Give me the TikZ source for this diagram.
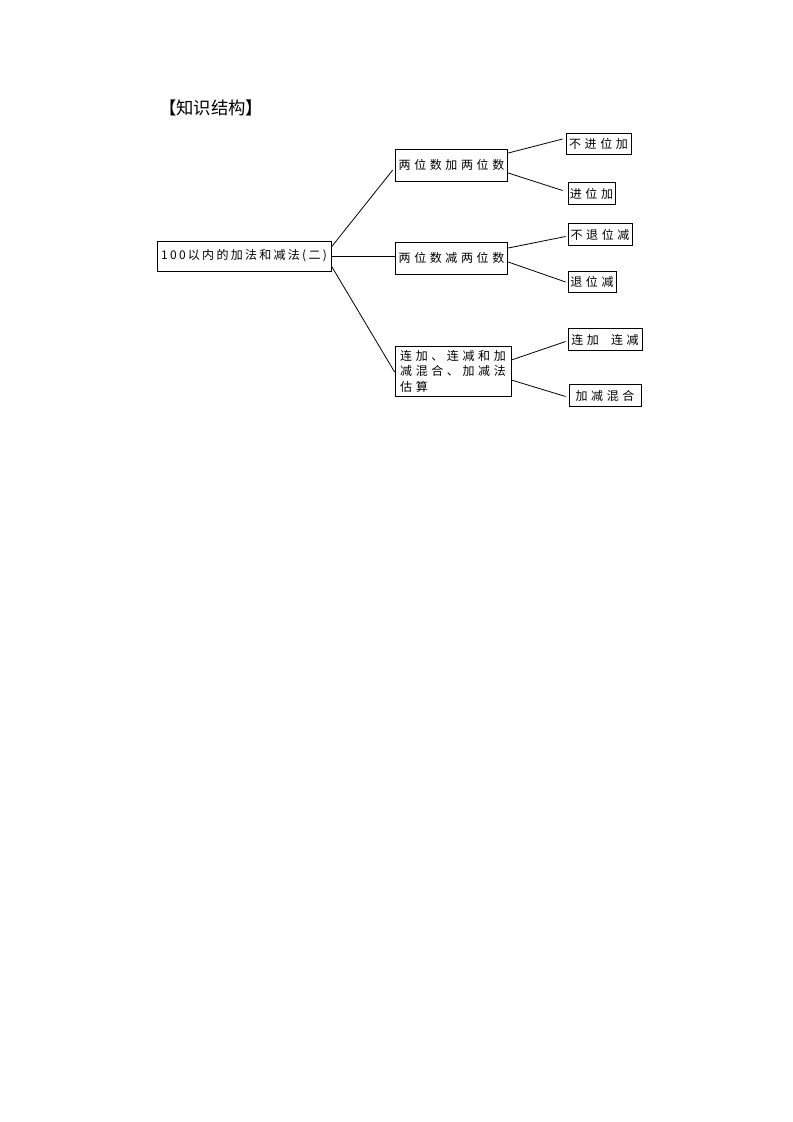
\documentclass[tikz,border=0pt]{standalone}
\usepackage{fontspec}
\setmainfont[LetterSpace=30]{Noto Sans CJK SC}
\newfontfamily\titlefont{Noto Sans CJK SC}
\usepackage{tikz}
\usetikzlibrary{positioning,calc}

\begin{document}
\begin{tikzpicture}[x=0.75pt,y=-0.75pt,line width=0.6pt,
    every node/.style={draw,inner sep=2pt,font=\fontsize{9}{11.6}\selectfont},
    topic/.style={minimum width=84.5pt,minimum height=24pt},
    leaf/.style={minimum height=16pt,inner sep=1pt}]
    \useasboundingbox (0,0) rectangle (793,1122);
    \node[draw=none,font=\titlefont\fontsize{13}{15}\selectfont] (title) at (211,108) {【知识结构】};
    % root and the three topics
    \node[minimum width=130.5pt,minimum height=22.5pt,inner sep=1pt,
        font=\fontsize{9}{11.6}\selectfont\addfontfeature{LetterSpace=19}] (R) at (244,256)
        {100以内的加法和减法(二)};
    \node[topic] (A) at (451.5,165) {两位数加两位数};
    \node[topic] (B) at (451.5,258) {两位数减两位数};
    \node[topic,minimum width=87pt,minimum height=37.5pt,align=left] (C) at (453,371)
        {连加、连减和加\\减混合、加减法\\估算};
    % leaves
    \node[leaf,minimum width=48.75pt] (A1) at (598.5,144) {不进位加};
    \node[leaf,minimum width=35.25pt] (A2) at (591.5,193.5) {进位加};
    \node[leaf,minimum width=48pt] (B1) at (600,234.5) {不退位减};
    \node[leaf,minimum width=36pt] (B2) at (592,282) {退位减};
    \node[leaf,minimum width=55.5pt,minimum height=17pt] (C1) at (605,339.5) {连加\hspace{9pt}连减};
    \node[leaf,minimum width=54pt,minimum height=17pt] (C2) at (605,395.5) {加减混合};
    % connectors
    \draw ($(R.east)+(0,-9)$) -- ($(A.west)+(-2,5)$);
    \draw (R.east) -- (R.east -| B.west);
    \draw ($(R.east)+(0,10)$) -- ($(C.west)+(0,1)$);
    \draw ($(A.east)+(0,-12)$) -- ($(A1.west)+(-3,-5)$);
    \draw ($(A.east)+(0,8)$) -- ($(A2.west)+(-5,-3)$);
    \draw ($(B.east)+(0,-10)$) -- ($(B1.west)+(-2,2)$);
    \draw ($(B.east)+(0,4)$) -- ($(B2.west)+(-2,0)$);
    \draw ($(C.east)+(0,-11)$) -- ($(C1.west)+(-2,2)$);
    \draw ($(C.east)+(0,9)$) -- ($(C2.west)+(-3,1)$);
\end{tikzpicture}
\end{document}
